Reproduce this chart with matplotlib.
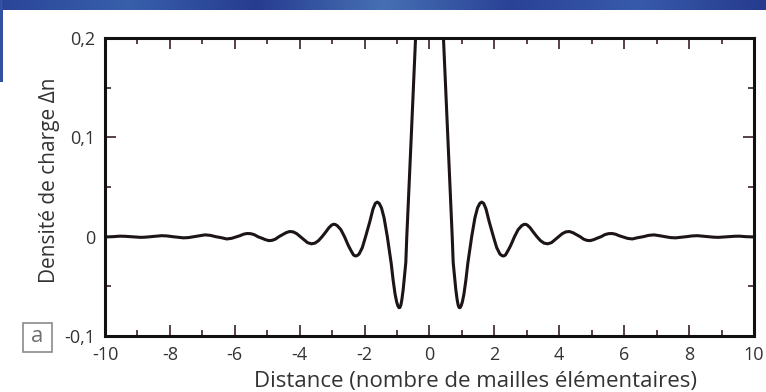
import numpy as np
import matplotlib.pyplot as plt
from matplotlib.ticker import MultipleLocator, FixedLocator, FixedFormatter
from matplotlib.colors import LinearSegmentedColormap
from matplotlib.patches import Rectangle

# right half of the curve (distance >= 0); the curve is symmetric
dist_right = [0.00, 0.20, 0.43, 0.57, 0.70, 0.73, 0.77, 0.81, 0.85, 0.88, 0.91,
              0.94, 0.97, 1.01, 1.06, 1.12, 1.18, 1.30, 1.40, 1.48, 1.55, 1.61,
              1.67, 1.74, 1.84, 1.97, 2.07, 2.17, 2.23, 2.28, 2.34, 2.42, 2.50,
              2.62, 2.73, 2.84, 2.90, 2.95, 3.01, 3.10, 3.19, 3.31, 3.42, 3.53,
              3.64, 3.76, 3.87, 3.98, 4.09, 4.20, 4.31, 4.42, 4.53, 4.64, 4.75,
              4.85, 4.95, 5.06, 5.17, 5.29, 5.40, 5.51, 5.62, 5.73, 5.84, 5.94,
              6.10, 6.25, 6.42, 6.59, 6.75, 6.92, 7.08, 7.25, 7.42, 7.58, 7.75,
              7.92, 8.08, 8.25, 8.42, 8.58, 8.75, 8.90, 9.07, 9.23, 9.40, 9.55,
              9.75, 10.0]
dn_right = [0.55, 0.37, 0.20, 0.095, 0.000, -0.026, -0.040, -0.053, -0.063,
            -0.0685, -0.0712, -0.0715, -0.070, -0.066, -0.058, -0.044, -0.027,
            0.000, 0.019, 0.029, 0.0335, 0.0348, 0.0335, 0.028, 0.015, 0.000,
            -0.011, -0.0175, -0.019, -0.0195, -0.0185, -0.014, -0.009, 0.000,
            0.007, 0.011, 0.0122, 0.0125, 0.0118, 0.009, 0.005, 0.000, -0.004,
            -0.0065, -0.0072, -0.006, -0.003, 0.000, 0.003, 0.0048, 0.0052,
            0.004, 0.002, 0.000, -0.0025, -0.0037, -0.0040, -0.003, -0.0015,
            0.000, 0.002, 0.003, 0.0032, 0.0025, 0.001, 0.000, -0.0017, -0.0023,
            -0.001, 0.000, 0.0013, 0.0018, 0.001, 0.000, -0.0009, -0.0012,
            -0.0006, 0.000, 0.0007, 0.0010, 0.0005, 0.000, -0.0005, -0.0007,
            -0.0003, 0.000, 0.0004, 0.0005, 0.000, -0.0003]

x_ticks = [-10, -8, -6, -4, -2, 0, 2, 4, 6, 8, 10]
y_ticks = [-0.1, 0.0, 0.1, 0.2]
y_tick_labels = ['-0,1', '0', '0,1', '0,2']

dist = np.concatenate([-np.array(dist_right[::-1]), np.array(dist_right[1:])])
dn = np.concatenate([np.array(dn_right[::-1]), np.array(dn_right[1:])])

plt.rcParams['font.family'] = ['Open Sans', 'DejaVu Sans']
plt.rcParams['axes.unicode_minus'] = False

W, H = 766, 392
fig = plt.figure(figsize=(W / 100, H / 100), dpi=100)

# blue banner at the top of the page
bg = fig.add_axes([0, 0, 1, 1], zorder=0)
blue = LinearSegmentedColormap.from_list('b', ['#2a4598', '#3860ab', '#273c90',
                                              '#4670b4', '#2a4296', '#385aaa', '#263b8e'])
grad = np.linspace(0, 1, 256).reshape(1, -1)
bg.imshow(grad, cmap=blue, extent=[0, W, 10, 0], aspect='auto')
bg.imshow(grad[:, :20], cmap=blue, extent=[0, 3, 82, 0], aspect='auto')
bg.set_xlim(0, W)
bg.set_ylim(H, 0)
bg.axis('off')

# panel label
bg.add_patch(Rectangle((22.5, 323), 29, 29, fill=False, edgecolor='#8a8a8a', lw=1.2))
bg.text(37, 337, 'a', ha='center', va='center', fontsize=16, color='#707070')

ax = fig.add_axes([105 / W, 1 - 336 / H, 649 / W, 298 / H], zorder=1)
ax.plot(dist, dn, color='#1c1418', lw=2.2, solid_joinstyle='round')
ax.set_xlim(-10, 10)
ax.set_ylim(-0.1, 0.2)

ax.xaxis.set_major_locator(FixedLocator(x_ticks))
ax.xaxis.set_minor_locator(MultipleLocator(1))
ax.yaxis.set_major_locator(FixedLocator(y_ticks))
ax.yaxis.set_major_formatter(FixedFormatter(y_tick_labels))
ax.yaxis.set_minor_locator(MultipleLocator(0.05))

ax.tick_params(which='both', direction='in', top=True, right=True, color='#4a3040')
ax.tick_params(which='major', length=8, width=1.3, pad=7, labelsize=13, labelcolor='#333333')
ax.tick_params(which='minor', length=4, width=1.3)
for s in ax.spines.values():
    s.set_linewidth(2.2)
    s.set_color('#111111')

fig.text(475 / W, 1 - 382 / H, 'Distance (nombre de mailles élémentaires)',
         ha='center', va='center', fontsize=16, color='#333333')
fig.text(50 / W, 1 - 180 / H, 'Densité de charge Δn', rotation=90,
         ha='center', va='center', fontsize=15, color='#333333')

fig.savefig('out.png', dpi=100)
